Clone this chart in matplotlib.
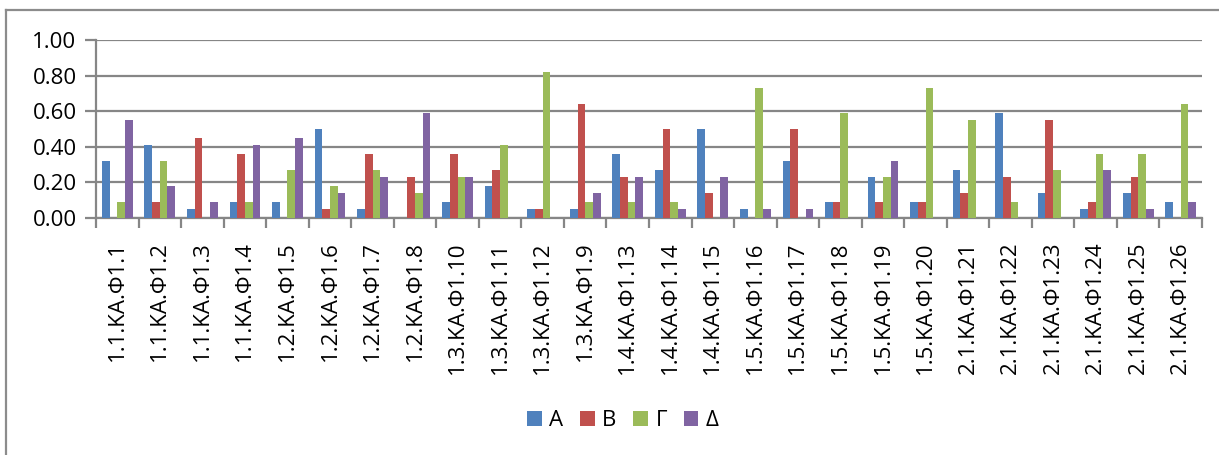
import matplotlib
matplotlib.use("Agg")
import matplotlib.pyplot as plt
from matplotlib.lines import Line2D
from matplotlib.patches import Patch
import numpy as np

categories = [
    "1.1.ΚΑ.Φ1.1", "1.1.ΚΑ.Φ1.2", "1.1.ΚΑ.Φ1.3", "1.1.ΚΑ.Φ1.4",
    "1.2.ΚΑ.Φ1.5", "1.2.ΚΑ.Φ1.6", "1.2.ΚΑ.Φ1.7", "1.2.ΚΑ.Φ1.8",
    "1.3.ΚΑ.Φ1.10", "1.3.ΚΑ.Φ1.11", "1.3.ΚΑ.Φ1.12", "1.3.ΚΑ.Φ1.9",
    "1.4.ΚΑ.Φ1.13", "1.4.ΚΑ.Φ1.14", "1.4.ΚΑ.Φ1.15", "1.5.ΚΑ.Φ1.16",
    "1.5.ΚΑ.Φ1.17", "1.5.ΚΑ.Φ1.18", "1.5.ΚΑ.Φ1.19", "1.5.ΚΑ.Φ1.20",
    "2.1.ΚΑ.Φ1.21", "2.1.ΚΑ.Φ1.22", "2.1.ΚΑ.Φ1.23", "2.1.ΚΑ.Φ1.24",
    "2.1.ΚΑ.Φ1.25", "2.1.ΚΑ.Φ1.26",
]

series_names = ["Α", "Β", "Γ", "Δ"]

A = [0.32, 0.41, 0.05, 0.09, 0.09, 0.50, 0.05, 0.00, 0.09, 0.18, 0.05, 0.05, 0.36,
     0.27, 0.50, 0.05, 0.32, 0.09, 0.23, 0.09, 0.27, 0.59, 0.14, 0.05, 0.14, 0.09]
B = [0.00, 0.09, 0.45, 0.36, 0.00, 0.05, 0.36, 0.23, 0.36, 0.27, 0.05, 0.64, 0.23,
     0.50, 0.14, 0.00, 0.50, 0.09, 0.09, 0.09, 0.14, 0.23, 0.55, 0.09, 0.23, 0.00]
G = [0.09, 0.32, 0.00, 0.09, 0.27, 0.18, 0.27, 0.14, 0.23, 0.41, 0.82, 0.09, 0.09,
     0.09, 0.00, 0.73, 0.00, 0.59, 0.23, 0.73, 0.55, 0.09, 0.27, 0.36, 0.36, 0.64]
D = [0.55, 0.18, 0.09, 0.41, 0.45, 0.14, 0.23, 0.59, 0.23, 0.00, 0.00, 0.14, 0.23,
     0.05, 0.23, 0.05, 0.05, 0.00, 0.32, 0.00, 0.00, 0.00, 0.00, 0.27, 0.05, 0.09]

colors = ["#4F81BD", "#C0504D", "#9BBB59", "#8064A2"]
grid_col = "#868686"

plt.rcParams["font.family"] = ["Open Sans", "DejaVu Sans"]

fig = plt.figure(figsize=(12.19, 4.55), dpi=100)
ax = fig.add_axes([96 / 1219, 1 - 217.5 / 455, (1202 - 96) / 1219, (217.5 - 40) / 455])

x = np.arange(len(categories))
bw = 0.18
for i, (vals, c) in enumerate(zip([A, B, G, D], colors)):
    ax.bar(x + (i - 1.5) * bw, vals, width=bw, color=c, linewidth=0, zorder=3)

ax.set_xlim(-0.5, len(categories) - 0.5)
ax.set_ylim(0, 1.0)
ax.set_yticks(np.arange(0, 1.01, 0.2))
ax.set_yticklabels([f"{v:.2f}" for v in np.arange(0, 1.01, 0.2)], fontsize=16)
ax.yaxis.grid(True, color=grid_col, linewidth=1.6, zorder=0)
ax.tick_params(axis="y", length=8, width=1.6, color=grid_col, pad=6)

ax.set_xticks(x)
ax.set_xticklabels(categories, rotation=90, fontsize=16)
ax.tick_params(axis="x", length=0, pad=17)
ax.set_xticks(np.arange(-0.5, len(categories)), minor=True)
ax.tick_params(axis="x", which="minor", length=7, width=1.6, color=grid_col)

for s in ["top", "right"]:
    ax.spines[s].set_visible(False)
for s in ["left", "bottom"]:
    ax.spines[s].set_color(grid_col)
    ax.spines[s].set_linewidth(1.6)

handles = [Patch(facecolor=c, edgecolor="none") for c in colors]
fig.legend(handles, series_names, loc="center", bbox_to_anchor=(623 / 1219, 1 - 421 / 455),
           ncol=4, frameon=False, fontsize=16, handlelength=0.65, handleheight=0.65,
           handletextpad=0.35, columnspacing=0.75)

# chart frame
fig.add_artist(Line2D([6 / 1219, 1.0], [1 - 10 / 455, 1 - 10 / 455],
                      transform=fig.transFigure, color="#8c8c8c", linewidth=1.6))
fig.add_artist(Line2D([6 / 1219, 6 / 1219], [0.0, 1 - 10 / 455],
                      transform=fig.transFigure, color="#8c8c8c", linewidth=1.6))

fig.savefig("out.png", dpi=100, facecolor="white")
